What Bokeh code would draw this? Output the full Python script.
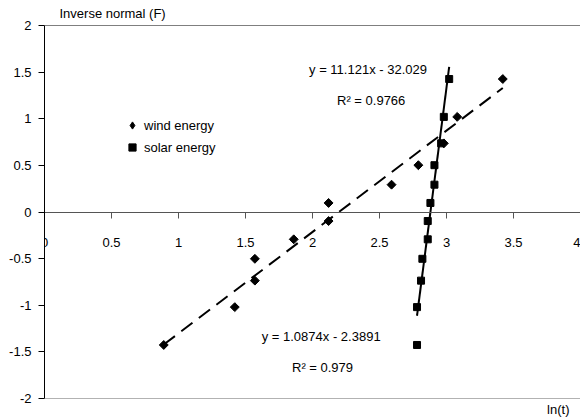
import math
from bokeh.plotting import figure
from bokeh.models import (LinearAxis, FixedTicker, NumeralTickFormatter, Label, Span,
                          Legend, LegendItem, Range1d, ColumnDataSource, Title)
from bokeh.embed import file_html
from bokeh.resources import INLINE

# ---------------- data ----------------
inverse_normal = [-1.426, -1.020, -0.736, -0.502, -0.293, -0.097,
                  0.097, 0.293, 0.502, 0.736, 1.020, 1.426]
wind_ln_t = [0.89, 1.42, 1.57, 1.57, 1.86, 2.12, 2.12, 2.59, 2.79, 2.98, 3.08, 3.42]
solar_ln_t = [2.78, 2.78, 2.81, 2.82, 2.86, 2.86, 2.88, 2.91, 2.91, 2.96, 2.98, 3.02]

wind_slope, wind_intercept = 1.0874, -2.3891
solar_slope, solar_intercept = 11.121, -32.029

x_ticks = [0, 0.5, 1, 1.5, 2, 2.5, 3, 3.5, 4]
y_ticks = [-2, -1.5, -1, -0.5, 0, 0.5, 1, 1.5, 2]

wind_label = "wind energy"
solar_label = "solar energy"
wind_eq = "y = 1.0874x - 2.3891"
wind_r2 = "R\u00b2 = 0.979"
solar_eq = "y = 11.121x - 32.029"
solar_r2 = "R\u00b2 = 0.9766"
y_title = "Inverse normal (F)"
x_title = "ln(t)"

FONT = "Liberation Sans"
FS = "13px"

# ---------------- figure ----------------
p = figure(width=580, height=420, output_backend="svg", toolbar_location=None,
           x_range=Range1d(0, 4), y_range=Range1d(-2, 2),
           x_axis_type=None, min_border_left=44, min_border_right=0,
           min_border_top=23, min_border_bottom=21)
p.outline_line_color = None
p.background_fill_color = "white"
p.border_fill_color = "white"
for g in p.grid:
    g.grid_line_color = None

# titles placed as text in the top and bottom borders
p.add_layout(Title(text=y_title, align="left", offset=15, standoff=8,
                   vertical_align="middle", text_font=FONT, text_font_size=FS,
                   text_font_style="normal", text_color="black"), "above")
p.add_layout(Title(text=x_title, align="right", offset=11, standoff=5,
                   vertical_align="middle", text_font=FONT, text_font_size=FS,
                   text_font_style="normal", text_color="black"), "below")

# y axis
ya = p.yaxis[0]
ya.ticker = FixedTicker(ticks=y_ticks)
ya.formatter = NumeralTickFormatter(format="0.[0]")
ya.major_tick_out = 6
ya.major_tick_in = 0
ya.minor_tick_out = 0
ya.minor_tick_in = 0
ya.major_label_standoff = 7
ya.axis_line_color = "black"
ya.major_tick_line_color = "black"
ya.major_label_text_font = FONT
ya.major_label_text_font_size = FS
ya.major_label_text_color = "black"

# x axis crossing at y = 0
xa = LinearAxis(fixed_location=0, ticker=FixedTicker(ticks=x_ticks),
                formatter=NumeralTickFormatter(format="0.[0]"),
                major_tick_out=6, major_tick_in=0, minor_tick_out=0, minor_tick_in=0,
                major_label_standoff=20, axis_line_color="#555555",
                major_tick_line_color="#555555",
                major_label_text_font=FONT, major_label_text_font_size=FS,
                major_label_text_color="black")
p.add_layout(xa, "below")

# top and bottom border lines
p.add_layout(Span(location=2, dimension="width", line_color="black", line_width=1))
p.add_layout(Span(location=-2, dimension="width", line_color="#666666", line_width=1))

# trend lines (over each series' x range)
wx = [min(wind_ln_t), max(wind_ln_t)]
wy = [wind_slope * v + wind_intercept for v in wx]
sx = [min(solar_ln_t), max(solar_ln_t)]
sy = [solar_slope * v + solar_intercept for v in sx]
p.line(wx, wy, line_color="black", line_width=2, line_dash="14 8")
p.line(sx, sy, line_color="black", line_width=2)

# data points
src_w = ColumnDataSource(dict(x=wind_ln_t, y=inverse_normal))
src_s = ColumnDataSource(dict(x=solar_ln_t, y=inverse_normal))
r_w = p.scatter("x", "y", source=src_w, marker="square", angle=math.pi / 4, size=6.3,
                fill_color="black", line_color="black")
r_s = p.scatter("x", "y", source=src_s, marker="square", size=7,
                fill_color="black", line_color="black")
# hidden diamond renderer of the same wind data, used only for the legend key
r_w_key = p.scatter("x", "y", source=src_w, marker="diamond",
                    fill_color="black", line_color="black", visible=False)

legend = Legend(items=[LegendItem(label=wind_label, renderers=[r_w_key]),
                       LegendItem(label=solar_label, renderers=[r_s])],
                location=(79, 242), border_line_color=None, background_fill_alpha=0,
                padding=0, margin=0, spacing=4, glyph_width=18, glyph_height=18,
                label_height=18, label_standoff=3,
                label_text_font=FONT, label_text_font_size=FS, label_text_color="black")
p.add_layout(legend)

def add_text(x, y, txt):
    p.add_layout(Label(x=x, y=y, text=txt, text_font=FONT, text_font_size=FS,
                       text_color="black", text_align="left", text_baseline="middle"))

add_text(1.974, 1.527, solar_eq)
add_text(2.183, 1.197, solar_r2)
add_text(1.621, -1.332, wind_eq)
add_text(1.847, -1.665, wind_r2)

open("out.html", "w").write(file_html(p, INLINE))
